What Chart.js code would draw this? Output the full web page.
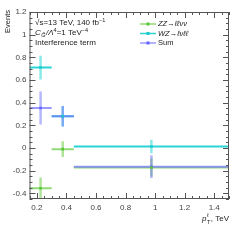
<!DOCTYPE html>
<html>
<head>
<meta charset="utf-8">
<script src="https://cdn.jsdelivr.net/npm/chart.js@4/dist/chart.umd.min.js"></script>
<style>
  html, body { margin: 0; padding: 0; background: #fff; }
  #wrap { width: 249px; height: 240px; }
</style>
</head>
<body>
<div id="wrap"><canvas id="chart" width="249" height="240"></canvas></div>
<script>
// bins in pT (TeV)
const binLo = [0.15, 0.3, 0.45];
const binHi = [0.3, 0.45, 1.5];
const binMid = [0.225, 0.375, 0.975];

// ZZ -> llvv
const zzVals = [-0.355, -0.01, -0.172];
const zzErrs = [0.095, 0.07, 0.08];
// WZ -> lvll
const wzVals = [0.71, 0.28, 0.013];
const wzErrs = [0.105, 0.09, 0.06];
// Sum
const sumVals = [0.353, 0.28, -0.165];
const sumErrs = [0.145, 0.09, 0.1];

const xTicks = [0.2, 0.4, 0.6, 0.8, 1, 1.2, 1.4];
const yTicks = [-0.4, -0.2, 0, 0.2, 0.4, 0.6, 0.8, 1, 1.2];

const FONT = "'Liberation Sans', Arial, sans-serif";
const AXIS = "#555";

function makeSet(label, vals, errs, color, bar, line) {
    return {
        label: label,
        data: binMid.map((x, i) => ({ x: x, y: vals[i], err: errs[i], lo: binLo[i], hi: binHi[i] })),
        backgroundColor: color,
        borderColor: color,
        pointStyle: "rect",
        pointRadius: 1.8,
        pointBorderWidth: 0,
        showLine: false,
        barColor: bar,
        lineColor: line,
    };
}

const datasets = [
    makeSet("ZZ\u2192\u2113\u2113\u03bd\u03bd", zzVals, zzErrs, "#58c83a", "rgba(110,205,70,0.55)", "rgba(110,205,70,0.75)"),
    makeSet("WZ\u2192\u2113\u03bd\u2113\u2113", wzVals, wzErrs, "#1fc8c8", "rgba(40,215,215,0.55)", "rgba(30,210,210,0.95)"),
    makeSet("Sum", sumVals, sumErrs, "#6464ff", "rgba(110,110,255,0.5)", "rgba(120,120,255,0.75)"),
];

// error bars (vertical = uncertainty, horizontal = bin width)
const errorBars = {
    id: "errorBars",
    beforeDatasetsDraw(chart) {
        const { ctx, scales: { x, y }, chartArea } = chart;
        ctx.save();
        ctx.beginPath();
        ctx.rect(chartArea.left, chartArea.top, chartArea.right - chartArea.left, chartArea.bottom - chartArea.top);
        ctx.clip();
        chart.data.datasets.forEach(ds => {
            ds.data.forEach(p => {
                const px = x.getPixelForValue(p.x);
                const py = y.getPixelForValue(p.y);
                ctx.strokeStyle = ds.barColor;
                ctx.lineWidth = 2.5;
                ctx.beginPath();
                ctx.moveTo(px, y.getPixelForValue(p.y + p.err));
                ctx.lineTo(px, y.getPixelForValue(p.y - p.err));
                ctx.stroke();
                ctx.strokeStyle = ds.lineColor;
                ctx.lineWidth = 2;
                ctx.beginPath();
                ctx.moveTo(x.getPixelForValue(p.lo), py);
                ctx.lineTo(x.getPixelForValue(p.hi), py);
                ctx.stroke();
            });
        });
        ctx.restore();
    },
};

// ROOT-like frame with inner ticks, legend and text
const decorations = {
    id: "decorations",
    afterDraw(chart) {
        const { ctx, scales: { x, y }, chartArea: a } = chart;
        ctx.save();
        ctx.strokeStyle = AXIS;
        ctx.lineWidth = 1;
        ctx.strokeRect(a.left + 0.5, a.top + 0.5, a.right - a.left - 1, a.bottom - a.top - 1);

        ctx.beginPath();
        for (let v = 0.15; v <= 1.5001; v += 0.05) {
            const px = Math.round(x.getPixelForValue(v)) + 0.5;
            const major = Math.abs(v / 0.2 - Math.round(v / 0.2)) < 1e-6;
            const len = major ? 6 : 3;
            ctx.moveTo(px, a.bottom); ctx.lineTo(px, a.bottom - len);
            ctx.moveTo(px, a.top); ctx.lineTo(px, a.top + len);
        }
        for (let v = -0.45; v <= 1.2001; v += 0.05) {
            const py = Math.round(y.getPixelForValue(v)) + 0.5;
            const major = Math.abs(v / 0.2 - Math.round(v / 0.2)) < 1e-6;
            const len = major ? 6 : 3;
            ctx.moveTo(a.left, py); ctx.lineTo(a.left + len, py);
            ctx.moveTo(a.right, py); ctx.lineTo(a.right - len, py);
        }
        ctx.stroke();

        // legend
        ctx.textBaseline = "middle";
        ctx.textAlign = "left";
        chart.data.datasets.forEach((ds, i) => {
            const ly = 24 + i * 9.5;
            ctx.strokeStyle = ds.lineColor;
            ctx.lineWidth = 1.5;
            ctx.beginPath();
            ctx.moveTo(140, ly); ctx.lineTo(156, ly);
            ctx.stroke();
            ctx.fillStyle = ds.backgroundColor;
            ctx.fillRect(146.5, ly - 1.5, 3, 3);
            ctx.fillStyle = "#222";
            ctx.font = (i < 2 ? "italic " : "") + "7.5px " + FONT;
            ctx.fillText(ds.label, 158, ly);
        });

        // annotations
        ctx.fillStyle = "#222";
        ctx.font = "8px " + FONT;
        let tx = 35;
        ctx.fillText("\u221as=13 TeV, 140 fb", tx, 23);
        let w = ctx.measureText("\u221as=13 TeV, 140 fb").width;
        ctx.font = "5.5px " + FONT;
        ctx.fillText("\u22121", tx + w, 20);

        ctx.font = "italic 8px " + FONT;
        ctx.fillText("C", tx, 33);
        w = ctx.measureText("C").width;
        ctx.font = "italic 5.5px " + FONT;
        ctx.fillText("G\u0303", tx + w + 0.5, 35.5);
        let w2 = ctx.measureText("G\u0303").width;
        ctx.font = "italic 8px " + FONT;
        let s = "/\u039b";
        ctx.fillText(s, tx + w + w2 + 1, 33);
        let x3 = tx + w + w2 + 1 + ctx.measureText(s).width;
        ctx.font = "5.5px " + FONT;
        ctx.fillText("4", x3, 30);
        x3 += ctx.measureText("4").width;
        ctx.font = "8px " + FONT;
        ctx.fillText("=1 TeV", x3, 33);
        x3 += ctx.measureText("=1 TeV").width;
        ctx.font = "5.5px " + FONT;
        ctx.fillText("\u22124", x3, 30);

        ctx.font = "8px " + FONT;
        ctx.fillText("Interference term", tx, 43);

        // axis titles
        ctx.save();
        ctx.translate(8, 10);
        ctx.rotate(-Math.PI / 2);
        ctx.textAlign = "right";
        ctx.font = "7.5px " + FONT;
        ctx.fillText("Events", 0, 0);
        ctx.restore();

        // p_T^l, TeV  (right-aligned to the frame)
        ctx.textAlign = "left";
        ctx.font = "italic 8px " + FONT;
        const wp = ctx.measureText("p").width;
        ctx.font = "5.5px " + FONT;
        const ws = Math.max(ctx.measureText("\u2113").width, ctx.measureText("T").width);
        ctx.font = "8px " + FONT;
        const wt = ctx.measureText(", TeV").width;
        let px0 = 229 - (wp + ws + 1 + wt);
        ctx.font = "italic 8px " + FONT;
        ctx.fillText("p", px0, 219);
        ctx.font = "5.5px " + FONT;
        ctx.fillText("\u2113", px0 + wp + 0.5, 215.5);
        ctx.fillText("T", px0 + wp + 0.5, 222);
        ctx.font = "8px " + FONT;
        ctx.fillText(", TeV", px0 + wp + ws + 1, 219);
        ctx.restore();
    },
};

function fmt(v) {
    return String(Math.round(v * 10) / 10);
}

new Chart(document.getElementById("chart"), {
    type: "scatter",
    data: { datasets: datasets },
    options: {
        responsive: false,
        animation: false,
        layout: { padding: { top: 12, right: 20, left: 0, bottom: 0 } },
        plugins: { legend: { display: false }, tooltip: { enabled: false } },
        scales: {
            x: {
                type: "linear",
                min: 0.15,
                max: 1.5,
                afterBuildTicks: s => { s.ticks = xTicks.map(v => ({ value: v })); },
                afterFit: s => { s.height = 41; },
                grid: { display: false, drawTicks: false },
                border: { display: false },
                ticks: { color: "#444", padding: 4, font: { family: FONT, size: 8 }, callback: v => fmt(v), maxRotation: 0, autoSkip: false },
            },
            y: {
                type: "linear",
                min: -0.45,
                max: 1.2,
                afterBuildTicks: s => { s.ticks = yTicks.map(v => ({ value: v })); },
                afterFit: s => { s.width = 29.5; },
                grid: { display: false, drawTicks: false },
                border: { display: false },
                ticks: { color: "#444", padding: 3, font: { family: FONT, size: 8 }, callback: v => fmt(v), autoSkip: false },
            },
        },
    },
    plugins: [errorBars, decorations],
});
</script>
</body>
</html>
